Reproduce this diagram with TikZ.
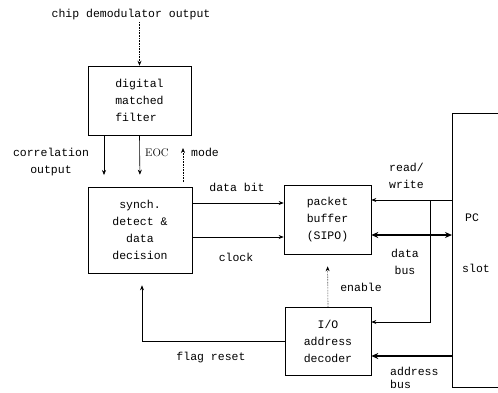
\documentclass[tikz,border=0pt]{standalone}
\usepackage{fontspec}
\setmonofont{Liberation Mono}
\usetikzlibrary{arrows.meta}
\begin{document}
\begin{tikzpicture}[x=1pt,y=-1pt,
  every node/.style={font=\ttfamily\fontsize{11.5}{17}\selectfont, inner sep=0pt},
  block/.style={draw, line width=0.6pt},
  lbl/.style={align=center},
  wire/.style={line width=0.6pt, -{Stealth[length=5pt,width=4pt]}},
  dotwire/.style={wire, densely dotted},
  bus/.style={line width=2pt, -{Stealth[length=7pt,width=6pt]}},
  dbus/.style={line width=2pt, {Stealth[length=7pt,width=6pt]}-{Stealth[length=7pt,width=6pt]}}]
\useasboundingbox (0,0) rectangle (498,392);

% blocks
\node[block, minimum width=103pt, minimum height=69pt, align=left] (dmf) at (139.5,100.5)
  {digital\\matched\\filter};
\node[block, minimum width=104pt, minimum height=86pt, align=center] (sdd) at (140,230)
  {synch.\\detect \&\\data\\decision};
\node[block, minimum width=87pt, minimum height=69pt, align=center] (pb) at (327.5,219.5)
  {packet\\buffer\\(SIPO)};
\node[block, minimum width=86pt, minimum height=68pt, align=center] (io) at (328,341)
  {I/O\\address\\decoder};

% PC slot outline, open to the right
\coordinate (pctop) at (452,113);
\coordinate (pcbot) at (452,387);
\draw[line width=0.6pt] (498,113) -- (pctop) -- (pcbot) -- (498,387);
\node (pc) at (472,218) {PC};
\node (slot) at (476,268) {slot};

% input to the matched filter
\node (chip) at (131,15) {chip demodulator output};
\draw[dotwire] (dmf.north |- 0,22) -- (dmf.north);

% filter to synch. block
\draw[wire, shorten >=12pt] (104,135) -- (104,187);
\draw[wire, shorten >=12pt] (dmf.south) -- (sdd.north);
\draw[dotwire, shorten >=13pt, shorten <=5pt] (183,187) -- (183,135);
\node[lbl] (corr) at (51,162) {correlation\\output};
\node[anchor=west, font=\rmfamily\fontsize{11}{13}\selectfont] (eoc) at (145,153) {EOC};
\node[anchor=west] (mode) at (191,152) {mode};

% synch. block to packet buffer
\draw[wire] (sdd.east |- 0,203) -- (pb.west |- 0,203);
\draw[wire] (sdd.east |- 0,237) -- (pb.west |- 0,237);
\node (dbit) at (237,187) {data bit};
\node (clk) at (236,257) {clock};

% read/write strobe
\coordinate (rwj) at (430,200);
\draw[wire] (pctop |- rwj) -- (pb.east |- rwj);
\draw[wire] (rwj) -- (430,322) -- (io.east |- 0,322);
\node[anchor=west, align=left] (rw) at (389,176) {read/\\write};

% data bus
\draw[dbus] (pb.east |- 0,235) -- (pctop |- 0,235);
\node[lbl] (dbus) at (405,262) {data\\bus};

% address bus
\draw[bus] (pctop |- 0,356) -- (io.east |- 0,356);
\node[anchor=west, align=left, font=\ttfamily\fontsize{11.5}{13.5}\selectfont] (abus) at (390,378) {address\\bus};

% enable
\draw[dotwire, shorten >=12pt] (io.north) -- (pb.south);
\node (en) at (361,287) {enable};

% flag reset
\coordinate (frc) at (142,341);
\draw[wire, shorten >=12pt] (io.west |- frc) -- (frc) -- (sdd.south -| frc);
\node (fr) at (211,358) {flag reset};
\end{tikzpicture}
\end{document}
